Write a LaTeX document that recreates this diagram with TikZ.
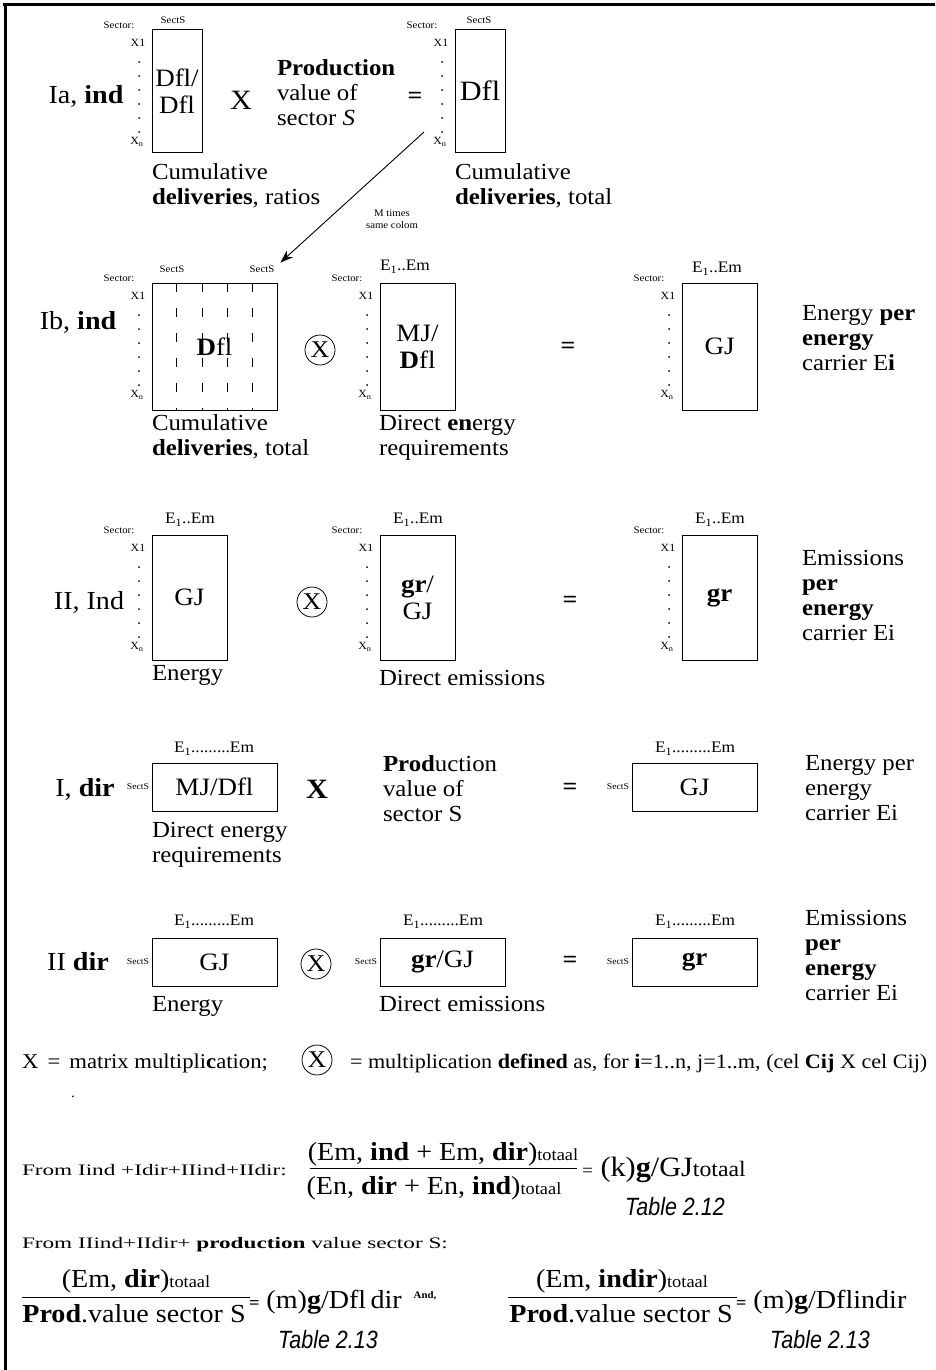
\documentclass[tikz,border=0pt]{standalone}
\usepackage{fontspec}
\setmainfont{Liberation Serif}[FakeStretch=1.08]
\newfontfamily\tabfont{Liberation Sans}[FakeStretch=0.86]
\newfontfamily\widefont{Liberation Serif}[FakeStretch=1.45]
\usetikzlibrary{arrows.meta}
\newcommand{\fsz}[2]{\fontsize{#1}{#2}\selectfont}
\begin{document}
\begin{tikzpicture}[x=1pt,y=-1pt,every node/.style={inner sep=0pt,outer sep=0pt},
  mat/.style={draw,line width=1pt,anchor=north west,align=center,font=\fsz{25}{27}},
  txt/.style={anchor=north west,align=left,font=\fsz{23}{25}},
  lab/.style={font=\fsz{26}{28}},
  sml/.style={font=\fsz{10}{12}},
  xlab/.style={font=\fsz{11}{11}},
  col/.style={font=\fsz{16}{16}},
  eqs/.style={font=\bfseries\fsz{24}{24}},
  opx/.style={draw,circle,line width=0.8pt,minimum size=30,font=\fsz{24}{24}},
  frc/.style={font=\fsz{26}{26}},
  tbl/.style={font=\tabfont\itshape\fsz{25}{25}}]
\useasboundingbox (0,0) rectangle (935,1370);
\draw[line width=3pt] (3,5) -- (935,5); \draw[line width=3pt] (5,3) -- (5,1370);
\foreach \n/\lx/\ty in {1/152/30,2/455/30,3/152/283,4/380/283,5/682/283,6/152/535,7/380/535,8/682/535} {\node[sml] (sec\n) at (\lx-33,\ty-5) {Sector:}; \node[xlab] (xa\n) at (\lx-14,\ty+13) {X1}; \node[xlab] (xn\n) at (\lx-15,\ty+112) {X\textsubscript{n}}; \foreach \k in {0,...,5} {\fill (\lx-13,\ty+32+14*\k) circle (1pt);}}
\node[lab] (ia) at (86,96) {Ia, \textbf{ind}};
\node[mat,minimum width=50,minimum height=122] (m1) at (152,30) {Dfl/\\Dfl}; \node[sml] (s1) at (173,20) {SectS};
\node[lab,font=\fsz{28}{28}] (op1) at (241,100) {X};
\node[txt] (pv1) at (277,60) {\textbf{Production}\\value of\\sector \textit{S}};
\node[eqs] (eq1) at (415,98) {=};
\node[mat,minimum width=50,minimum height=122,font=\fsz{28}{28}] (m2) at (455,30) {Dfl}; \node[sml] (s2) at (479,20) {SectS};
\node[txt] (c1) at (152,164) {Cumulative\\\textbf{deliveries}, ratios};
\node[txt] (c2) at (455,164) {Cumulative\\\textbf{deliveries}, total};
\coordinate (arrfrom) at (424,132);
\node[sml,align=center] (mt) at (392,219) {M times\\same colom};
\node[lab] (ib) at (78,322) {Ib, \textbf{ind}};
\node[mat,minimum width=125,minimum height=127] (m3) at (152,283) {\textbf{D}fl};
\foreach \x in {24,50,75,100} {\draw[dash pattern=on 9pt off 16pt] ([xshift=\x]m3.north west) -- ([xshift=\x]m3.south west);}
\node[sml] (s3a) at (172,269) {SectS}; \node[sml] (s3b) at (262,269) {SectS};
\draw[-{Stealth[length=13pt,width=9pt]},line width=0.9pt] (arrfrom) -- ([shift={(6,-3)}]s3b.north east);
\node[opx] (ox1) at (320,350) {X};
\node[mat,minimum width=75,minimum height=127] (m4) at (380,283) {MJ/\\\textbf{D}fl}; \node[col] (e4) at (405,267) {E\textsubscript{1}..Em};
\node[eqs] (eq2) at (568,348) {=};
\node[mat,minimum width=75,minimum height=127] (m5) at (682,283) {GJ}; \node[col] (e5) at (717,269) {E\textsubscript{1}..Em};
\node[txt] (c3) at (152,415) {Cumulative\\\textbf{deliveries}, total};
\node[txt] (c4) at (379,415) {Direct \textbf{en}ergy\\requirements};
\node[txt] (r1) at (802,305) {Energy \textbf{per}\\\textbf{energy}\\carrier E\textbf{i}};
\node[lab] (ii) at (89,602) {II, Ind};
\node[mat,minimum width=75,minimum height=125] (m6) at (152,535) {GJ}; \node[col] (e6) at (190,520) {E\textsubscript{1}..Em};
\node[opx] (ox2) at (312,602) {X};
\node[mat,minimum width=75,minimum height=125] (m7) at (380,535) {\textbf{gr}/\\GJ}; \node[col] (e7) at (418,520) {E\textsubscript{1}..Em};
\node[eqs] (eq3) at (570,602) {=};
\node[mat,minimum width=75,minimum height=125] (m8) at (682,535) {\textbf{gr}}; \node[col] (e8) at (720,520) {E\textsubscript{1}..Em};
\node[txt] (c5) at (152,665) {Energy};
\node[txt] (c6) at (379,670) {Direct emissions};
\node[txt] (r2) at (802,550) {Emissions\\\textbf{per}\\\textbf{energy}\\carrier Ei};
\node[lab] (idir) at (85,789) {I, \textbf{dir}};
\node[mat,minimum width=125,minimum height=48] (m9) at (152,763) {MJ/Dfl}; \node[sml,font=\fsz{9}{9},anchor=east] (s9) at (149,787) {SectS}; \node[col] (e9) at (214,749) {E\textsubscript{1}.........Em};
\node[lab,font=\bfseries\fsz{28}{28}] (op2) at (317,789) {X};
\node[txt] (pv2) at (383,756) {\textbf{Prod}uction\\value of\\sector S};
\node[eqs] (eq4) at (570,789) {=};
\node[mat,minimum width=125,minimum height=48] (m10) at (632,763) {GJ}; \node[sml,font=\fsz{9}{9},anchor=east] (s10) at (629,787) {SectS}; \node[col] (e10) at (695,749) {E\textsubscript{1}.........Em};
\node[txt] (c7) at (152,822) {Direct energy\\requirements};
\node[txt] (r3) at (805,755) {Energy per\\energy\\carrier Ei};
\node[lab] (iidir) at (78,962) {II \textbf{dir}};
\node[mat,minimum width=125,minimum height=48] (m11) at (152,938) {GJ}; \node[sml,font=\fsz{9}{9},anchor=east] (s11) at (149,962) {SectS}; \node[col] (e11) at (214,922) {E\textsubscript{1}.........Em};
\node[opx] (ox3) at (316,964) {X};
\node[mat,minimum width=125,minimum height=48] (m12) at (380,938) {\textbf{gr}/GJ}; \node[sml,font=\fsz{9}{9},anchor=east] (s12) at (377,962) {SectS}; \node[col] (e12) at (443,922) {E\textsubscript{1}.........Em};
\node[eqs] (eq5) at (570,962) {=};
\node[mat,minimum width=125,minimum height=48] (m13) at (632,938) {\textbf{gr}}; \node[sml,font=\fsz{9}{9},anchor=east] (s13) at (629,962) {SectS}; \node[col] (e13) at (695,922) {E\textsubscript{1}.........Em};
\node[txt] (c8) at (152,996) {Energy};
\node[txt] (c9) at (379,996) {Direct emissions};
\node[txt] (r4) at (805,910) {Emissions\\\textbf{per}\\\textbf{energy}\\carrier Ei};
\node[anchor=west,font=\fsz{21}{22}] (lg1) at (22,1063) {X \,=\, matrix multipli\textbf{c}ation;\,};
\node[opx] (ox4) at (317,1060) {X};
\node[anchor=west,font=\fsz{20.5}{22}] (lg2) at (350,1063) {= multiplication \textbf{defined} as, for \textbf{i}=1..n, j=1..m, (cel \textbf{Cij} X cel Cij)};
\node[font=\fsz{14}{14}] (dot) at (73,1097) {.};
\node[anchor=west,font=\widefont\fsz{16}{16}] (fr1) at (22,1170) {From Iind +Idir+IIind+IIdir:};
\node[frc] (num1) at (443,1154) {(Em, \textbf{ind} + Em, \textbf{dir}){\fsz{17}{17}totaal}};
\draw[line width=1pt] (310,1168) -- (577,1168);
\node[frc] (den1) at (434,1188) {(En, \textbf{dir} + En, \textbf{ind}){\fsz{17}{17}totaal}};
\node[anchor=west,font=\fsz{28}{28}] (res1) at (582,1170) {{\fsz{18}{18}=} (k)\textbf{g}/GJ{\fsz{22}{22}totaal}};
\node[tbl] (t1) at (675,1207) {Table 2.12};
\node[anchor=west,font=\widefont\fsz{16}{16}] (fr2) at (22,1245) {From IIind+IIdir+ \textbf{production} value sector S:};
\node[frc] (num2) at (136,1281) {(Em, \textbf{dir}){\fsz{17}{17}totaal}};
\draw[line width=1pt] (22,1297) -- (250,1297);
\node[frc] (den2) at (134,1314) {\textbf{Prod}.value sector S};
\node[anchor=west,font=\fsz{26}{26}] (res2) at (249,1302) {{\bfseries\fsz{17}{17}=} (m)\textbf{g}/Dfl\,dir};
\node[font=\bfseries\fsz{10}{10}] (and) at (425,1296) {And,};
\node[tbl] (t2) at (328,1340) {Table 2.13};
\node[frc] (num3) at (622,1281) {(Em, \textbf{indir}){\fsz{17}{17}totaal}};
\draw[line width=1pt] (508,1297) -- (737,1297);
\node[frc] (den3) at (621,1314) {\textbf{Prod}.value sector S};
\node[anchor=west,font=\fsz{26}{26}] (res3) at (736,1302) {{\bfseries\fsz{17}{17}=} (m)\textbf{g}/Dflindir};
\node[tbl] (t3) at (820,1340) {Table 2.13};
\end{tikzpicture}
\end{document}
